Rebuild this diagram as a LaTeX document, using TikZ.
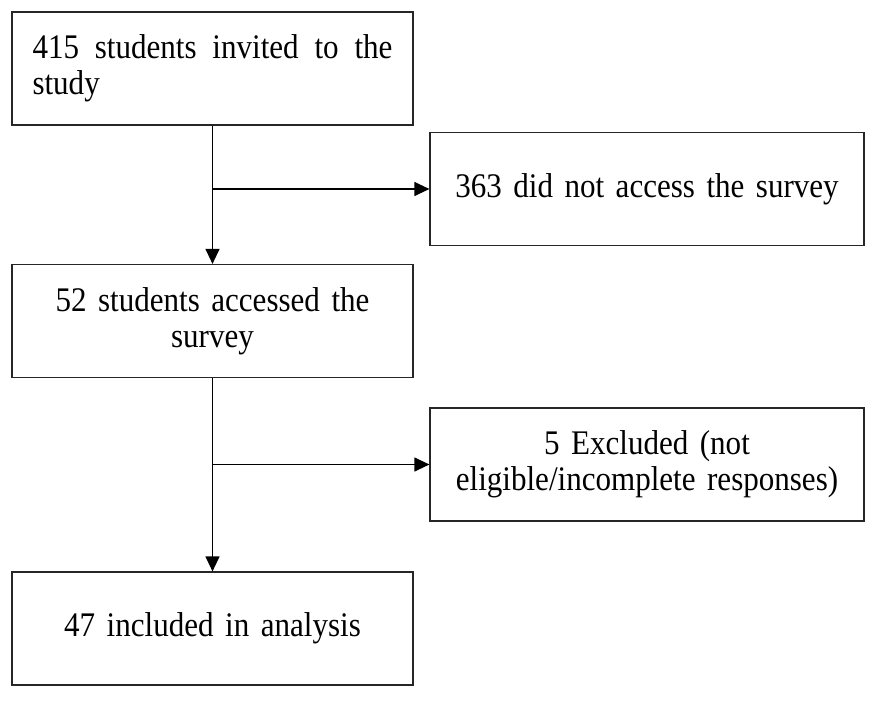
\documentclass[tikz,border=0pt]{standalone}
\usepackage{fontspec}
\setmainfont{Liberation Serif}[FakeStretch=0.9,WordSpace=0.75]
\usetikzlibrary{arrows.meta}
\begin{document}
\begin{tikzpicture}[x=1pt,y=-1pt,
  box/.style={draw=black!85,line width=1.2pt,inner xsep=0pt,inner ysep=0pt,
    minimum height=113pt,font=\fontsize{34.5}{36}\selectfont},
  leftbox/.style={box,text width=360pt,minimum width=401pt},
  rightbox/.style={box,text width=394pt,minimum width=434pt,align=center},
  conn/.style={line width=1.2pt,-{Triangle[length=15pt,width=14pt]}}]
\useasboundingbox (0,0) rectangle (873,707);
\node[leftbox,align=justify] (b1) at (212.5,68.5) {\hyphenpenalty=10000 415 students invited to the study};
\node[rightbox] (b2) at (647,189) {363 did not access the survey};
\node[leftbox,align=center] (b3) at (212.5,321) {52 students accessed the\\survey};
\node[rightbox] (b4) at (647,464.5) {5 Excluded (not\\eligible/incomplete responses)};
\node[leftbox,align=center] (b5) at (212.5,628.5) {47 included in analysis};
\draw[conn] (b1.south) -- (b3.north);
\draw[conn] (b1.south |- b2.west) -- (b2.west);
\draw[conn] (b3.south) -- (b5.north);
\draw[conn] (b3.south |- b4.west) -- (b4.west);
\end{tikzpicture}
\end{document}
